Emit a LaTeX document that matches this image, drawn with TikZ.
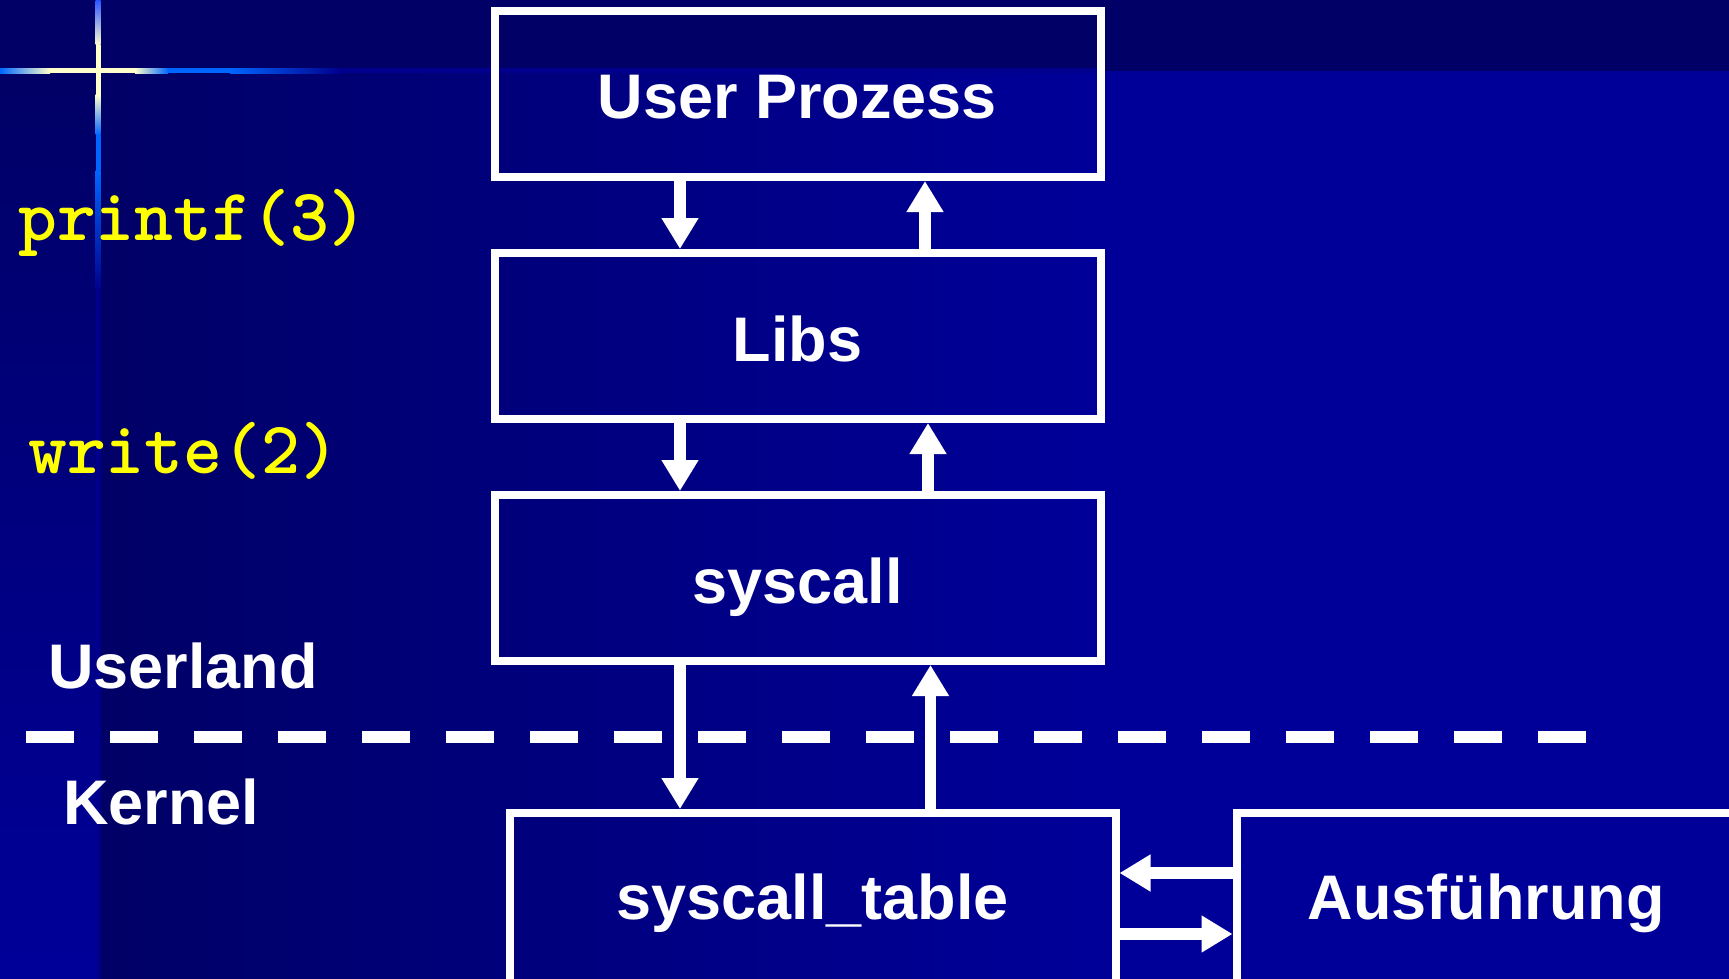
\documentclass[tikz,border=0pt]{standalone}
\usepackage{fontspec}
\setmainfont{Liberation Sans}
\usetikzlibrary{arrows.meta}

\definecolor{bgdark}{HTML}{000066}
\definecolor{bgblue}{HTML}{000099}
\definecolor{glow}{HTML}{FFFFCC}
\definecolor{ray}{HTML}{0066FF}
\definecolor{raytop}{HTML}{2A55FF}
\definecolor{raydim}{HTML}{00008C}
\definecolor{codeyellow}{HTML}{FFFF00}

\begin{document}
\begin{tikzpicture}[x=1pt,y=-1pt,
  box/.style={draw=white, line width=8pt, minimum width=606pt, minimum height=166pt,
    inner sep=0pt, text=white, font=\fontsize{63}{70}\selectfont\bfseries,
    text height=50pt, text depth=0pt},
  lowbox/.style={box, minimum height=176pt, text height=36pt},
  flow/.style={draw=white, line width=11.5pt, -{Triangle[width=35pt,length=31pt]}},
  lbl/.style={text=white, font=\fontsize{63}{70}\selectfont\bfseries, anchor=base west, inner sep=0pt},
  code/.style={text=codeyellow, font=\ttfamily\fontsize{74}{80}\selectfont\bfseries, anchor=base west, inner sep=0pt},
  sep/.style={white, line width=12.5pt, dash pattern=on 48pt off 36pt}]

\useasboundingbox (0,0) rectangle (1729,979);

% background
\fill[bgblue] (0,0) rectangle (1729,979);
\shade[left color=bgdark, right color=bgblue] (96,71) rectangle (1100,979);
\shade[top color=bgdark, bottom color=bgblue] (0,71) rectangle (96,979);
\fill[bgdark] (0,0) rectangle (1729,71);

% glowing cross, horizontal ray
\shade[left color=ray, right color=glow] (0,68.5) rectangle (50,73.5);
\fill[glow] (50,68.5) rectangle (135,73.5);
\shade[left color=glow, right color=ray] (135,68.5) rectangle (168,73.5);
\fill[ray] (168,68.5) rectangle (230,73.5);
\shade[left color=ray, right color=raydim] (230,68.5) rectangle (340,73.5);
\fill[raydim] (340,68.5) rectangle (1100,73.5);
% vertical ray
\shade[top color=raytop, bottom color=glow] (95.5,0) rectangle (100.5,45);
\fill[glow] (95.5,45) rectangle (100.5,95);
\shade[top color=glow, bottom color=ray] (95.5,95) rectangle (100.5,135);
\fill[ray] (95.5,135) rectangle (100.5,170);
\shade[top color=ray, bottom color=raydim] (95.5,170) rectangle (100.5,290);
\fill[raydim] (95.5,290) rectangle (100.5,979);

% user/kernel separator
\draw[sep] (26,737) -- (1586,737);

% layers
\node[box] (up) at (797.5,94) {User Prozess};
\node[box] (libs) at (797.5,336) {Libs};
\node[box] (sys) at (797.5,578) {syscall};
\node[lowbox] (tab) at (812.5,901) {syscall\_table};
\node[lowbox, minimum width=499pt] (aus) at (1486,901) {Ausführung};

% connector end points
\coordinate (a1) at ([xshift=-117.5pt]up.south);
\coordinate (a1e) at (a1 |- libs.north);
\coordinate (b1) at ([xshift=127.5pt]up.south);
\coordinate (b1s) at (b1 |- libs.north);
\coordinate (a2) at ([xshift=-117.5pt]libs.south);
\coordinate (a2e) at (a2 |- sys.north);
\coordinate (b2) at ([xshift=130.5pt]libs.south);
\coordinate (b2s) at (b2 |- sys.north);
\coordinate (a3) at ([xshift=-117.5pt]sys.south);
\coordinate (a3e) at (a3 |- tab.north);
\coordinate (b3) at ([xshift=133pt]sys.south);
\coordinate (b3s) at (b3 |- tab.north);
\coordinate (r1) at ([yshift=28pt]aus.west);
\coordinate (r1e) at (r1 -| tab.east);
\coordinate (r2) at ([yshift=-33pt]tab.east);
\coordinate (r2e) at (r2 -| aus.west);

% calls down, returns up
\draw[flow] (a1) -- (a1e);
\draw[flow] (b1s) -- (b1);
\draw[flow] (a2) -- (a2e);
\draw[flow] (b2s) -- (b2);
\draw[flow] (a3) -- (a3e);
\draw[flow] (b3s) -- (b3);
\draw[flow] (r1) -- (r1e);
\draw[flow] (r2) -- (r2e);

% side labels
\node[code] (printf) at (18,240) {printf(3)};
\node[code] (write) at (28,473) {write(2)};
\node[lbl] (userland) at (48,688) {Userland};
\node[lbl] (kernel) at (63,824) {Kernel};
\end{tikzpicture}
\end{document}
